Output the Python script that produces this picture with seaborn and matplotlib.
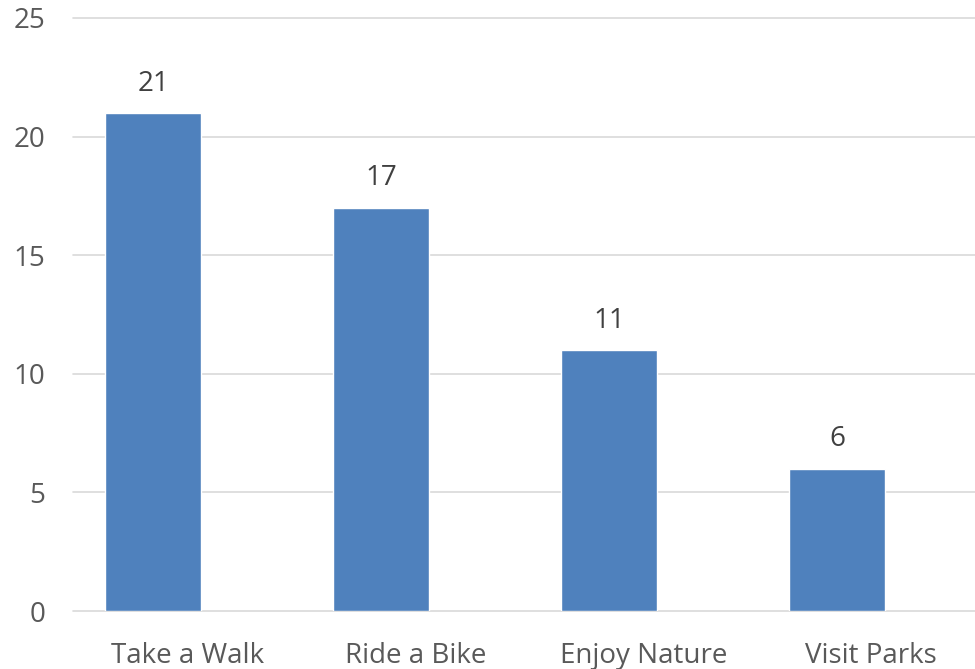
import matplotlib
matplotlib.use("Agg")
import matplotlib.pyplot as plt
import seaborn as sns
import pandas as pd

# data
activities = ["Take a Walk", "Ride a Bike", "Enjoy Nature", "Visit Parks"]
counts = [21, 17, 11, 6]
y_ticks = [0, 5, 10, 15, 20, 25]

df = pd.DataFrame({"Activity": activities, "Count": counts})

sns.set_theme(style="white")
plt.rcParams["font.family"] = ["Open Sans", "DejaVu Sans"]

fig = plt.figure(figsize=(9.75, 6.69), dpi=100)
ax = fig.add_axes([73 / 975, 58 / 669, 902 / 975, 593 / 669])

sns.barplot(data=df, x="Activity", y="Count", color="#4F81BD",
            saturation=1, width=0.42, ax=ax, zorder=3)

ax.set_xlim(-0.351, 3.605)
ax.set_ylim(0, 25)
ax.set_yticks(y_ticks)
for t in y_ticks:
    ax.axhline(t, color="#D9D9D9", lw=1.2, zorder=1, clip_on=False)

# category labels sit to the right of the bars, as in the original
ax.set_xticks([i + 0.15 for i in range(len(activities))], activities)

for c in ax.containers:
    ax.bar_label(c, fmt="%d", padding=11, fontsize=20, color="#404040")

ax.set_xlabel("")
ax.set_ylabel("")
ax.tick_params(axis="both", length=0, labelsize=20, colors="#595959")
ax.tick_params(axis="y", pad=20)
ax.tick_params(axis="x", pad=22)
for s in ax.spines.values():
    s.set_visible(False)

fig.savefig("out.png", dpi=100)
